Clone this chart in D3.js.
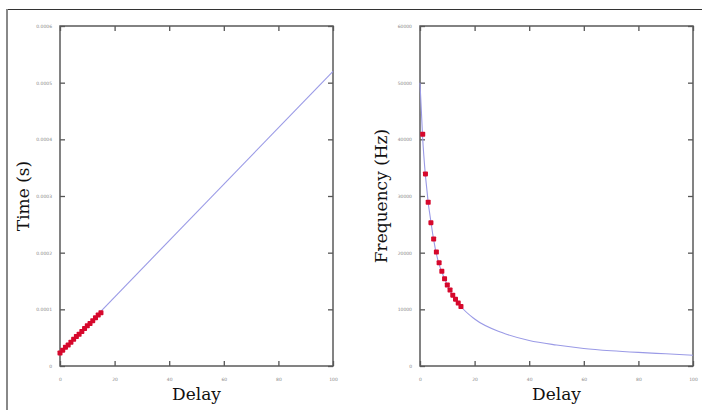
<!DOCTYPE html>
<html>
<head>
<meta charset="utf-8">
<script src="https://cdn.jsdelivr.net/npm/d3@7"></script>
<style>
  body { margin: 0; background: #fff; }
  svg { display: block; }
</style>
</head>
<body>
<svg id="chart" width="702" height="410"></svg>
<script>
// measured points (delay steps)
var delays = [0, 1, 2, 3, 4, 5, 6, 7, 8, 9, 10, 11, 12, 13, 14, 15];
var times = [0.000023, 0.000028, 0.000033, 0.000037, 0.000042, 0.000047, 0.000052, 0.000056,
             0.000061, 0.000066, 0.000071, 0.000075, 0.000080, 0.000085, 0.000090, 0.000094];

var freqDelays = [1, 2, 3, 4, 5, 6, 7, 8, 9, 10, 11, 12, 13, 14, 15];
var freqs = [40900, 33900, 28900, 25300, 22400, 20100, 18200, 16700,
             15400, 14300, 13400, 12500, 11800, 11100, 10500];

// fitted lines
var timeFitDelay = [0, 100];
var timeFit = [0.000022, 0.00052];
var freqFitDelay = [0, 1, 2, 5, 10, 15, 20, 30, 40, 50, 60, 70, 80, 90, 100];
var freqFit = [50000, 40000, 33500, 22300, 14300, 10500, 8300, 5900, 4500, 3700, 3100, 2700, 2400, 2150, 1900];

var xTicks = [0, 20, 40, 60, 80, 100];
var timeTicks = [0, 0.0001, 0.0002, 0.0003, 0.0004, 0.0005, 0.0006];
var freqTicks = [0, 10000, 20000, 30000, 40000, 50000, 60000];

var svg = d3.select('#chart');

// outer border of the figure
svg.append('line').attr('x1', 7).attr('x2', 702).attr('y1', 9.5).attr('y2', 9.5)
  .attr('stroke', '#333').attr('stroke-width', 1.2);
svg.append('line').attr('x1', 7).attr('x2', 7).attr('y1', 9).attr('y2', 410)
  .attr('stroke', '#888').attr('stroke-width', 2);

function panel(opt) {
  var x = d3.scaleLinear().domain([0, 100]).range([opt.left, opt.right]);
  var y = d3.scaleLinear().domain(opt.yDomain).range([366, 26]);
  var g = svg.append('g');

  g.append('g').attr('transform', 'translate(0,366)')
    .call(d3.axisBottom(x).tickValues(xTicks).tickSize(-5).tickPadding(12));
  g.append('g').attr('transform', 'translate(0,26)')
    .call(d3.axisTop(x).tickValues(xTicks).tickSize(-5).tickFormat(''));
  g.append('g').attr('transform', 'translate(' + opt.left + ',0)')
    .call(d3.axisLeft(y).tickValues(opt.yTicks).tickSize(-5).tickPadding(8).tickFormat(opt.fmt));
  g.append('g').attr('transform', 'translate(' + opt.right + ',0)')
    .call(d3.axisRight(y).tickValues(opt.yTicks).tickSize(-5).tickFormat(''));

  g.selectAll('.domain').remove();
  g.selectAll('.tick line').attr('stroke', '#555').attr('stroke-width', 1.3);
  g.selectAll('.tick text').attr('fill', '#888').style('font', '4.5px "DejaVu Sans"');

  g.append('rect')
    .attr('x', opt.left).attr('y', 26)
    .attr('width', opt.right - opt.left).attr('height', 340)
    .attr('fill', 'none').attr('stroke', '#5a5a5a').attr('stroke-width', 1.5);

  var line = d3.line()
    .x(function (d) { return x(d[0]); })
    .y(function (d) { return y(d[1]); })
    .curve(d3.curveMonotoneX);

  g.append('path')
    .datum(d3.zip(opt.fitX, opt.fitY))
    .attr('d', line)
    .attr('fill', 'none')
    .attr('stroke', '#9a9ae6')
    .attr('stroke-width', 1.1);

  g.selectAll('rect.pt')
    .data(d3.zip(opt.ptX, opt.ptY))
    .join('rect')
    .attr('class', 'pt')
    .attr('x', function (d) { return x(d[0]) - 2.5; })
    .attr('y', function (d) { return y(d[1]) - 2.5; })
    .attr('width', 5).attr('height', 5)
    .attr('rx', 0.8)
    .attr('fill', '#d6082c');

  svg.append('text')
    .attr('x', (opt.left + opt.right) / 2).attr('y', 400)
    .attr('text-anchor', 'middle')
    .style('font', '17px "DejaVu Serif"')
    .attr('fill', '#111')
    .text('Delay');

  svg.append('text')
    .attr('transform', 'translate(' + opt.titleX + ',196) rotate(-90)')
    .attr('text-anchor', 'middle')
    .style('font', '17px "DejaVu Serif"')
    .attr('fill', '#111')
    .text(opt.title);
}

panel({
  left: 60, right: 333,
  yDomain: [0, 0.0006], yTicks: timeTicks,
  fmt: function (d) { return d === 0 ? '0' : d3.format('.4f')(d); },
  fitX: timeFitDelay, fitY: timeFit,
  ptX: delays, ptY: times,
  title: 'Time (s)', titleX: 29
});

panel({
  left: 420, right: 693,
  yDomain: [0, 60000], yTicks: freqTicks,
  fmt: d3.format('d'),
  fitX: freqFitDelay, fitY: freqFit,
  ptX: freqDelays, ptY: freqs,
  title: 'Frequency (Hz)', titleX: 387
});
</script>
</body>
</html>
